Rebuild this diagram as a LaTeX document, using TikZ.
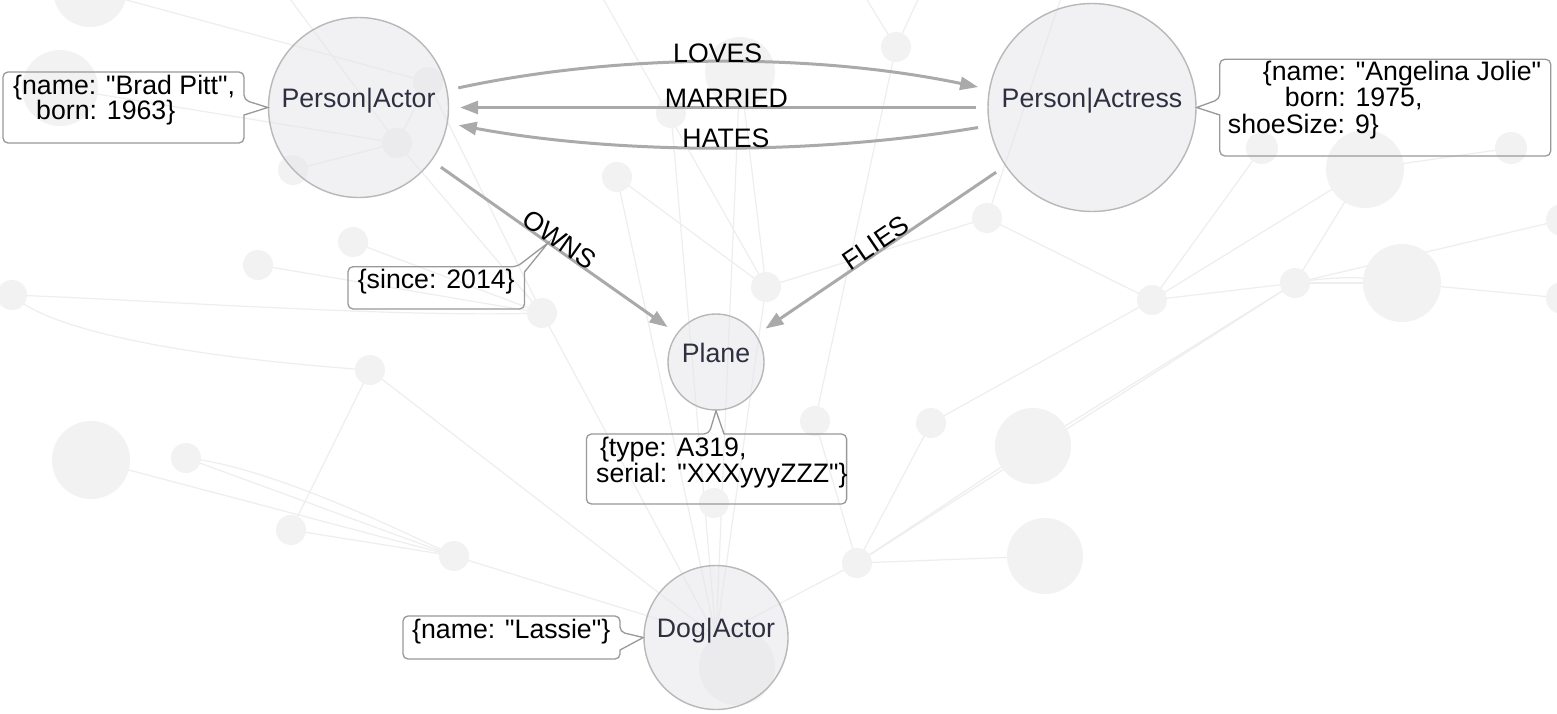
\documentclass[tikz,border=0pt]{standalone}
\usepackage{fontspec}
\setmainfont{Liberation Sans}[Ligatures=TeXOff]
\usetikzlibrary{arrows.meta,calc}
\definecolor{bgfill}{HTML}{F2F2F2}
\definecolor{bgline}{HTML}{EEEEEE}
\definecolor{nodefill}{HTML}{E6E6EB}
\definecolor{nodeline}{HTML}{B8B8B8}
\definecolor{captxt}{HTML}{2E3040}
\definecolor{reledge}{HTML}{AAAAAA}
\definecolor{boxline}{HTML}{999999}
\newcommand{\dgfont}{\fontsize{26.7pt}{26pt}\selectfont}
\begin{document}
\begin{tikzpicture}[x=1pt,y=-1pt,
  bgedge/.style={draw=bgline,line width=1.2pt},
  entity/.style={circle,draw=nodeline,line width=1.4pt,fill=nodefill,fill opacity=0.55,text opacity=1,text=captxt,inner sep=0pt,text height=10pt,text depth=10pt,font=\dgfont},
  rel/.style={draw=reledge,line width=3pt,-{Triangle[length=18pt,width=13pt]},shorten <=11pt,shorten >=11pt},
  rellabel/.style={font=\dgfont,text=black,inner sep=0pt,anchor=base,sloped},
  calloutbox/.style={draw=boxline,line width=1.3pt},
  proptext/.style={font=\dgfont,inner sep=0pt,anchor=base west,text=black}
]
\useasboundingbox (0,0) rectangle (1557,713);
\fill[white] (0,0) rectangle (1557,713);
% ---------- faint background network ----------
\begin{scope}
\clip (0,0) rectangle (1557,713);
\coordinate (g1) at (90,-10);
\coordinate (g2) at (60,88);
\coordinate (g3) at (428,82);
\coordinate (g4) at (397,143);
\coordinate (g5) at (293,170);
\coordinate (g6) at (353,242);
\coordinate (g7) at (258,265);
\coordinate (g8) at (12,295);
\coordinate (g9) at (740,72);
\coordinate (g10) at (671,113);
\coordinate (g11) at (617,177);
\coordinate (g12) at (896,47);
\coordinate (g13) at (766,287);
\coordinate (g14) at (987,218);
\coordinate (g15) at (542,313);
\coordinate (g16) at (370,370);
\coordinate (g17) at (91,460);
\coordinate (g18) at (186,458);
\coordinate (g19) at (291,530);
\coordinate (g20) at (454,556);
\coordinate (g21) at (714,503);
\coordinate (g22) at (737,667);
\coordinate (g23) at (815,421);
\coordinate (g24) at (931,423);
\coordinate (g25) at (1033,446);
\coordinate (g26) at (1045,556);
\coordinate (g27) at (857,563);
\coordinate (g28) at (1152,300);
\coordinate (g29) at (1295,283);
\coordinate (g30) at (1402,283);
\coordinate (g31) at (1365,169);
\coordinate (g32) at (1262,148);
\coordinate (g33) at (1511,148);
\coordinate (g34) at (1562,220);
\coordinate (g35) at (1562,298);
\coordinate (g36) at (716,637);
\coordinate (e1) at (287,-5);
\coordinate (e2) at (601,-5);
\coordinate (e3) at (864,-5);
\coordinate (e4) at (920,-5);
\coordinate (e5) at (1062,-5);
\coordinate (e6) at (-5,285);
\draw[bgedge] (g1) -- (g3);
\draw[bgedge] (g2) -- (g4);
\draw[bgedge] (e1) -- (g4);
\draw[bgedge] (g3) -- (g4);
\draw[bgedge] (g4) -- (g5);
\draw[bgedge] (g4) -- (g15);
\draw[bgedge] (g3) -- (g15);
\draw[bgedge] (g6) -- (g15);
\draw[bgedge] (g7) -- (g15);
\draw[bgedge] (g8) .. controls (150,300) and (400,318) .. (g15);
\draw[bgedge] (g8) .. controls (60,340) and (250,362) .. (g16);
\draw[bgedge] (e6) -- (g8);
\draw[bgedge] (g16) -- (g19);
\draw[bgedge] (g16) -- (g36);
\draw[bgedge] (g17) -- (g20);
\draw[bgedge] (g18) -- (g20);
\draw[bgedge] (g18) .. controls (260,465) and (380,520) .. (g20);
\draw[bgedge] (g19) -- (g20);
\draw[bgedge] (g20) -- (g36);
\draw[bgedge] (e2) -- (g13);
\draw[bgedge] (g11) -- (g13);
\draw[bgedge] (g13) -- (g14);
\draw[bgedge] (g12) -- (e3);
\draw[bgedge] (g12) -- (e4);
\draw[bgedge] (g12) -- (g23);
\draw[bgedge] (g9) -- (g13);
\draw[bgedge] (g9) -- (g36);
\draw[bgedge] (g15) -- (g36);
\draw[bgedge] (g11) -- (g36);
\draw[bgedge] (g10) -- (g36);
\draw[bgedge] (g13) -- (g36);
\draw[bgedge] (g23) -- (g27);
\draw[bgedge] (g24) -- (g27);
\draw[bgedge] (g27) -- (g26);
\draw[bgedge] (g27) -- (g25);
\draw[bgedge] (g27) -- (g29);
\draw[bgedge] (g27) -- (g36);
\draw[bgedge] (g28) -- (g14);
\draw[bgedge] (g28) -- (g29);
\draw[bgedge] (g28) -- (g32);
\draw[bgedge] (g28) -- (g31);
\draw[bgedge] (g28) -- (g24);
\draw[bgedge] (g29) -- (g30);
\draw[bgedge] (g29) .. controls (1330,276) and (1370,276) .. (g30);
\draw[bgedge] (g29) -- (g31);
\draw[bgedge] (g29) -- (g34);
\draw[bgedge] (g30) -- (g35);
\draw[bgedge] (g31) -- (g33);
\draw[bgedge] (g25) -- (g29);
\draw[bgedge] (e5) -- (g14);
\foreach \c/\r in {g1/37,g2/38,g3/15,g4/15,g5/15,g6/15,g7/15,g8/15,g9/35,g10/15,g11/15,g12/15,g13/15,g14/15,g15/15,g16/15,g17/39,g18/15,g19/15,g20/15,g21/15,g22/38,g23/15,g24/15,g25/38,g26/38,g27/15,g28/15,g29/15,g30/39,g31/39,g32/16,g33/16,g34/16,g35/16}
  \fill[bgfill] (\c) circle[radius=\r];
\end{scope}
% ---------- entities ----------
\node[entity,minimum size=180pt] (pa) at (358.5,107.5) {Person|Actor};
\node[entity,minimum size=208pt] (pb) at (1092,107.5) {Person|Actress};
\node[entity,minimum size=96pt] (pl) at (716,362) {Plane};
\node[entity,minimum size=144pt] (dog) at (716,637.5) {Dog|Actor};
% ---------- relationships ----------
\draw[rel] (pa.11) .. controls (620,53) and (815,53) .. (pb.170) node[rellabel,pos=0.5] {LOVES};
\draw[rel] (pb.west) -- (pa.east) node[rellabel,pos=0.485] {MARRIED};
\draw[rel] (pb.190) .. controls (815,155) and (620,155) .. (pa.-10) node[rellabel,pos=0.485] {HATES};
\draw[rel] (pa.-36) -- (pl.144.5) node[rellabel,pos=0.5] {OWNS};
\path (pa.-36) -- (pl.144.5) coordinate[pos=0.475] (ownsmid);
\draw[rel] (pb.214.5) -- (pl.34) node[rellabel,pos=0.5] {FLIES};
% ---------- property callouts ----------
\draw[calloutbox] (pa.west) -- (244,115) [rounded corners=5pt] -- (244,143) -- (3,143) -- (3,72) -- (244,72) -- (244,100) [sharp corners] -- cycle;
\node[proptext] (bradprops) at (13,94.5) {\vtop{\baselineskip=25.3pt\lineskiplimit=-50pt\hbox{\{name: "Brad Pitt",}\hbox{\kern23pt born: 1963\}}}};

\draw[calloutbox] (pb.east) -- (1219.8,115) [rounded corners=5pt] -- (1219.8,156) -- (1550.7,156) -- (1550.7,59.3) -- (1219.8,59.3) -- (1219.8,99) [sharp corners] -- cycle;
\node[proptext] (angieprops) at (1227.7,80) {\vtop{\baselineskip=26.6pt\lineskiplimit=-50pt\hbox{\kern35pt\{name: "Angelina Jolie"}\hbox{\kern57pt born: 1975,}\hbox{shoeSize: 9\}}}};

\draw[calloutbox] (ownsmid) -- (524.5,272) [rounded corners=5pt] -- (524.5,309) -- (348,309) -- (348,266.7) -- (517,266.7) [sharp corners] -- cycle;
\node[proptext] (ownsprops) at (357.6,288) {\{since: 2014\}};

\draw[calloutbox] (pl.south) -- (724,434) [rounded corners=5pt] -- (846.6,434) -- (846.6,504) -- (586.4,504) -- (586.4,434) -- (709,434) [sharp corners] -- cycle;
\node[proptext] (planeprops) at (596,456.7) {\vtop{\baselineskip=26pt\lineskiplimit=-50pt\hbox{\kern3.8pt\{type: A319,}\hbox{serial: "XXXyyyZZZ"\}}}};

\draw[calloutbox] (dog.west) -- (620,650) [rounded corners=5pt] -- (620,659) -- (403,659) -- (403,616) -- (620,616) -- (620,632) [sharp corners] -- cycle;
\node[proptext] (dogprops) at (412,638) {\{name: "Lassie"\}};
\end{tikzpicture}
\end{document}
